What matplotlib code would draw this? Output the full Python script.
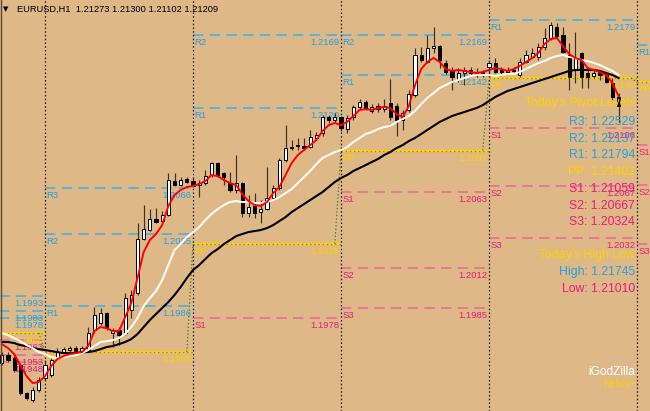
import matplotlib
matplotlib.use("Agg")
import matplotlib.pyplot as plt
from matplotlib.patches import Rectangle
from matplotlib.lines import Line2D

plt.rcParams['lines.scale_dashes'] = False
FONT = ['Liberation Sans', 'DejaVu Sans']

# ---------------- data ----------------
header = "EURUSD,H1  1.21273 1.21300 1.21102 1.21209"
first_bar = -7          # bar index of first visible candle (0 = first bar of day 1)

opens = [1.19476, 1.19530, 1.19510, 1.19462, 1.19273, 1.19226, 1.19294,
         1.19375, 1.19395, 1.19516, 1.19550, 1.19564, 1.19577, 1.19557, 1.19564, 1.19699, 1.19746,
         1.19813, 1.19678, 1.19699, 1.19678, 1.19834, 1.19948, 1.20313, 1.20374, 1.20448, 1.20434,
         1.20475, 1.20704, 1.20677, 1.20718, 1.20704, 1.20677, 1.20691, 1.20745, 1.20826, 1.20758,
         1.20691, 1.20644, 1.20691, 1.20488, 1.20536, 1.20495, 1.20515, 1.20590, 1.20657, 1.20846,
         1.20927, 1.20941, 1.20941, 1.20934, 1.20995, 1.21028, 1.21136, 1.21116, 1.21136, 1.21055,
         1.21136, 1.21204, 1.21238, 1.21177, 1.21211, 1.21190, 1.21231, 1.21211, 1.21116, 1.21184,
         1.21285, 1.21555, 1.21508, 1.21602, 1.21616, 1.21501, 1.21454, 1.21393, 1.21433, 1.21454,
         1.21427, 1.21440, 1.21474, 1.21501, 1.21454, 1.21440, 1.21454, 1.21420, 1.21508, 1.21541,
         1.21541, 1.21609, 1.21670, 1.21744, 1.21690, 1.21555, 1.21454, 1.21568, 1.21433, 1.21413,
         1.21440, 1.21420, 1.21366, 1.21273]
highs = [1.19550, 1.19550, 1.19530, 1.19476, 1.19280, 1.19314, 1.19381,
         1.19496, 1.19510, 1.19577, 1.19584, 1.19591, 1.19591, 1.19591, 1.19719, 1.19854, 1.19847,
         1.19820, 1.19712, 1.19719, 1.19948, 1.19969, 1.20421, 1.20542, 1.20515, 1.20522, 1.20502,
         1.20758, 1.20758, 1.20731, 1.20731, 1.20725, 1.20711, 1.20779, 1.20833, 1.20833, 1.20765,
         1.20765, 1.20880, 1.20698, 1.20610, 1.20623, 1.20576, 1.20799, 1.20677, 1.20860, 1.21082,
         1.20981, 1.20995, 1.20995, 1.21049, 1.21035, 1.21150, 1.21150, 1.21163, 1.21143, 1.21150,
         1.21217, 1.21258, 1.21251, 1.21224, 1.21231, 1.21258, 1.21393, 1.21231, 1.21184, 1.21319,
         1.21602, 1.21609, 1.21690, 1.21745, 1.21622, 1.21521, 1.21474, 1.21467, 1.21474, 1.21474,
         1.21467, 1.21454, 1.21521, 1.21535, 1.21474, 1.21474, 1.21474, 1.21535, 1.21589, 1.21602,
         1.21636, 1.21737, 1.21778, 1.21771, 1.21744, 1.21636, 1.21710, 1.21575, 1.21474, 1.21454,
         1.21454, 1.21440, 1.21400, 1.21300]
lows = [1.19462, 1.19483, 1.19415, 1.19260, 1.19226, 1.19213, 1.19280,
        1.19361, 1.19381, 1.19510, 1.19543, 1.19550, 1.19550, 1.19543, 1.19550, 1.19678, 1.19732,
        1.19699, 1.19584, 1.19597, 1.19665, 1.19780, 1.19935, 1.20306, 1.20367, 1.20421, 1.20421,
        1.20468, 1.20671, 1.20671, 1.20691, 1.20664, 1.20596, 1.20677, 1.20731, 1.20731, 1.20677,
        1.20630, 1.20623, 1.20461, 1.20461, 1.20455, 1.20421, 1.20509, 1.20576, 1.20644, 1.20833,
        1.20914, 1.20914, 1.20914, 1.20927, 1.20988, 1.21008, 1.21096, 1.21096, 1.21042, 1.21028,
        1.21116, 1.21184, 1.21184, 1.21163, 1.21170, 1.21170, 1.21116, 1.21010, 1.21049, 1.21170,
        1.21271, 1.21508, 1.21501, 1.21568, 1.21467, 1.21427, 1.21319, 1.21373, 1.21352, 1.21420,
        1.21406, 1.21406, 1.21433, 1.21433, 1.21420, 1.21427, 1.21433, 1.21406, 1.21501, 1.21535,
        1.21521, 1.21589, 1.21656, 1.21670, 1.21568, 1.21319, 1.21366, 1.21332, 1.21332, 1.21400,
        1.21386, 1.21366, 1.21251, 1.21102]
closes = [1.19530, 1.19496, 1.19429, 1.19273, 1.19240, 1.19294, 1.19361,
          1.19462, 1.19496, 1.19550, 1.19570, 1.19577, 1.19557, 1.19577, 1.19678, 1.19800, 1.19813,
          1.19712, 1.19699, 1.19665, 1.19915, 1.19935, 1.20313, 1.20380, 1.20448, 1.20428, 1.20475,
          1.20711, 1.20677, 1.20711, 1.20698, 1.20671, 1.20691, 1.20738, 1.20826, 1.20745, 1.20731,
          1.20644, 1.20691, 1.20488, 1.20529, 1.20488, 1.20515, 1.20590, 1.20657, 1.20846, 1.20927,
          1.20934, 1.20947, 1.20927, 1.21001, 1.21015, 1.21136, 1.21116, 1.21136, 1.21062, 1.21130,
          1.21204, 1.21238, 1.21190, 1.21204, 1.21190, 1.21211, 1.21136, 1.21116, 1.21163, 1.21292,
          1.21555, 1.21521, 1.21602, 1.21616, 1.21521, 1.21440, 1.21406, 1.21433, 1.21454, 1.21433,
          1.21440, 1.21427, 1.21501, 1.21440, 1.21440, 1.21454, 1.21447, 1.21508, 1.21555, 1.21568,
          1.21609, 1.21670, 1.21757, 1.21683, 1.21575, 1.21406, 1.21535, 1.21406, 1.21406, 1.21433,
          1.21420, 1.21373, 1.21273, 1.21209]

ma_fast = [1.19604, 1.19577, 1.19537, 1.19462, 1.19388, 1.19341, 1.19348,
           1.19388, 1.19456, 1.19503, 1.19523, 1.19537, 1.19543, 1.19550, 1.19591, 1.19692, 1.19719,
           1.19712, 1.19692, 1.19692, 1.19786, 1.19881, 1.20050, 1.20225, 1.20306, 1.20347, 1.20407,
           1.20536, 1.20610, 1.20644, 1.20664, 1.20671, 1.20684, 1.20704, 1.20745, 1.20738, 1.20711,
           1.20691, 1.20677, 1.20617, 1.20569, 1.20542, 1.20536, 1.20563, 1.20623, 1.20664, 1.20745,
           1.20826, 1.20880, 1.20914, 1.20947, 1.20981, 1.21042, 1.21082, 1.21096, 1.21082, 1.21103,
           1.21143, 1.21184, 1.21190, 1.21184, 1.21197, 1.21204, 1.21197, 1.21157, 1.21136, 1.21211,
           1.21352, 1.21460, 1.21508, 1.21535, 1.21508, 1.21460, 1.21447, 1.21454, 1.21447, 1.21440,
           1.21433, 1.21440, 1.21454, 1.21467, 1.21460, 1.21447, 1.21460, 1.21481, 1.21508, 1.21535,
           1.21568, 1.21629, 1.21663, 1.21670, 1.21616, 1.21562, 1.21535, 1.21521, 1.21467, 1.21454,
           1.21440, 1.21420, 1.21366, 1.21278]
ma_mid = [1.19678, 1.19665, 1.19645, 1.19624, 1.19597, 1.19577, 1.19550,
          1.19537, 1.19516, 1.19510, 1.19516, 1.19523, 1.19530, 1.19543, 1.19564, 1.19591, 1.19618,
          1.19624, 1.19631, 1.19645, 1.19672, 1.19719, 1.19780, 1.19861, 1.19915, 1.19962, 1.20036,
          1.20137, 1.20239, 1.20279, 1.20326, 1.20360, 1.20394, 1.20441, 1.20482, 1.20515, 1.20542,
          1.20563, 1.20569, 1.20563, 1.20563, 1.20556, 1.20556, 1.20563, 1.20576, 1.20596, 1.20623,
          1.20650, 1.20691, 1.20731, 1.20772, 1.20819, 1.20860, 1.20880, 1.20900, 1.20914, 1.20934,
          1.20968, 1.20995, 1.21022, 1.21035, 1.21055, 1.21069, 1.21076, 1.21103, 1.21123, 1.21143,
          1.21177, 1.21224, 1.21265, 1.21298, 1.21332, 1.21352, 1.21373, 1.21386, 1.21400, 1.21413,
          1.21420, 1.21420, 1.21420, 1.21413, 1.21420, 1.21427, 1.21427, 1.21440, 1.21460, 1.21481,
          1.21501, 1.21514, 1.21535, 1.21548, 1.21555, 1.21541, 1.21535, 1.21521, 1.21514, 1.21501,
          1.21487, 1.21467, 1.21447, 1.21420]
ma_slow = [1.19618, 1.19618, 1.19611, 1.19597, 1.19591, 1.19577, 1.19570,
           1.19564, 1.19557, 1.19550, 1.19543, 1.19543, 1.19543, 1.19550, 1.19550, 1.19557, 1.19570,
           1.19584, 1.19591, 1.19604, 1.19618, 1.19638, 1.19672, 1.19719, 1.19766, 1.19807, 1.19847,
           1.19888, 1.19935, 1.19989, 1.20050, 1.20104, 1.20137, 1.20178, 1.20218, 1.20245, 1.20279,
           1.20306, 1.20333, 1.20347, 1.20360, 1.20367, 1.20374, 1.20387, 1.20407, 1.20434, 1.20461,
           1.20495, 1.20522, 1.20549, 1.20576, 1.20603, 1.20630, 1.20664, 1.20698, 1.20725, 1.20745,
           1.20772, 1.20792, 1.20812, 1.20833, 1.20853, 1.20880, 1.20900, 1.20927, 1.20947, 1.20974,
           1.20995, 1.21022, 1.21049, 1.21076, 1.21103, 1.21123, 1.21143, 1.21157, 1.21170, 1.21184,
           1.21197, 1.21217, 1.21244, 1.21271, 1.21292, 1.21312, 1.21325, 1.21339, 1.21352, 1.21366,
           1.21379, 1.21393, 1.21406, 1.21420, 1.21433, 1.21447, 1.21454, 1.21454, 1.21454, 1.21454,
           1.21447, 1.21433, 1.21420, 1.21400]

# daily pivot levels (one entry per day; day start bar in day_starts)
bars_per_day = 24
day_starts = [-24, 0, 24, 48, 72, 96]
r3_levels = [1.1993, 1.2066, None, None, 1.2253, None]
r2_levels = [1.1983, 1.2035, 1.2169, 1.2169, 1.2214, None]
r1_levels = [1.1978, 1.1986, 1.2120, 1.2142, 1.2179, 1.2162]
pp_levels = [1.1968, 1.1955, 1.2028, 1.2091, 1.2140, 1.2137]
s1_levels = [1.1963, None, 1.1978, 1.2063, 1.2106, 1.2095]
s2_levels = [1.1953, None, None, 1.2012, 1.2067, 1.2068]
s3_levels = [1.1948, None, None, 1.1985, 1.2032, 1.2028]

panel_names = ["R3", "R2", "R1", "PP", "S1", "S2", "S3"]
panel_values = [1.22529, 1.22137, 1.21794, 1.21402, 1.21059, 1.20667, 1.20324]
today_high = 1.21745
today_low = 1.21010

# ---------------- style ----------------
W, H = 650, 411
BG = '#DEB887'
CYAN_T = '#1EA3E6'
CYAN_L = '#45B2E4'
PINK_T = '#F0187F'
PINK_L = '#EE6A9C'
GOLD = '#FFD200'
WICK = '#3a3123'
PT = 0.72  # points per pixel at 100 dpi

fig = plt.figure(figsize=(W / 100, H / 100), dpi=100)
fig.patch.set_facecolor(BG)
ax = fig.add_axes([0, 0, 1, 1])
ax.set_facecolor(BG)
ax.axis('off')

bar_px = 148 / 24.0
x_left = -45 / bar_px
ax.set_xlim(x_left, x_left + W / bar_px)
ax.set_ylim(1.191526, 1.21926)

# day separators
for s in day_starts[1:]:
    ax.axvline(s, color='#1c1a16', lw=0.9, linestyle=(0, (1.1, 1.6)), zorder=1.5)


def level_line(s, v, color, dashed=True):
    e = s + bars_per_day
    if dashed:
        ax.plot([s, e], [v, v], color=color, lw=1.2, linestyle=(0, (7.5, 4.5)),
                zorder=1, solid_capstyle='butt', dash_capstyle='butt')
    else:
        ax.plot([s, e], [v, v], color=GOLD, lw=1.5, zorder=1)
        ax.plot([s, e], [v, v], color='#9C8A1E', lw=0.9, linestyle=(0, (1, 2)), zorder=1.1)


def level_text(x, v, s, color, ha):
    dx = 1.5 * PT if ha == 'left' else -1.5 * PT
    ax.annotate(s, xy=(x, v), xytext=(dx, -10 * PT), textcoords='offset points',
                ha=ha, va='baseline', fontsize=6.8, color=color, family=FONT, zorder=2)


groups = [("R3", r3_levels, CYAN_L, CYAN_T), ("R2", r2_levels, CYAN_L, CYAN_T),
          ("R1", r1_levels, CYAN_L, CYAN_T), ("PP", pp_levels, GOLD, GOLD),
          ("S1", s1_levels, PINK_L, PINK_T), ("S2", s2_levels, PINK_L, PINK_T),
          ("S3", s3_levels, PINK_L, PINK_T)]
for name, levels, lc, tc in groups:
    for d, s in enumerate(day_starts):
        v = levels[d]
        if v is None:
            continue
        level_line(s, v, lc, dashed=(name != "PP"))
        level_text(s, v, name, tc, 'left')
        level_text(s + bars_per_day, v, f"{v:.4f}", tc, 'right')

# connectors between consecutive pivot points
for d in range(len(day_starts) - 1):
    e = day_starts[d] + bars_per_day
    ax.plot([e - 1, e], [pp_levels[d], pp_levels[d + 1]], color='#2F8A2A', lw=0.9,
            linestyle=(0, (1, 1.5)), zorder=1.2)

# candles
for i in range(len(opens)):
    k = first_bar + i
    o, h, l, c = opens[i], highs[i], lows[i], closes[i]
    ax.plot([k, k], [l, h], color=WICK, lw=0.85, zorder=3, solid_capstyle='butt')
    lo, hi = min(o, c), max(o, c)
    fc = 'white' if c >= o else 'black'
    ax.add_patch(Rectangle((k - 0.26, lo), 0.52, max(hi - lo, 0.00002), facecolor=fc,
                           edgecolor='black', lw=0.7, zorder=3.1))

ks = [first_bar + i for i in range(len(closes))]
ax.plot(ks, ma_slow, color='black', lw=1.5, zorder=4)
ax.plot(ks, ma_mid, color='white', lw=1.4, zorder=4.1)
ax.plot(ks, ma_fast, color='#FF0000', lw=1.4, zorder=4.2)

# left frame
fig.add_artist(Line2D([1 / W, 1 / W], [0, 1], transform=fig.transFigure, color='#5a4a32', lw=1))


def ptext(x, y, s, color, size, ha='right', va='baseline', family=FONT):
    fig.text(x / W, 1 - y / H, s, color=color, fontsize=size, ha=ha, va=va, family=family, zorder=6)


# header
ptext(3, 9, '\u25BC', 'black', 5, ha='left', va='center', family=['DejaVu Sans'])
ptext(17, 9, header, 'black', 6.7, ha='left', va='center')

# info panel
ptext(635, 106, "Today's Pivot Levels", GOLD, 8.8)
base = 125
for j, (n, v) in enumerate(zip(panel_names, panel_values)):
    col = CYAN_T if n.startswith('R') else (GOLD if n == 'PP' else PINK_T)
    ptext(635, base + j * 16.7, f"{n}: {v:.5f}", col, 8.8)
ptext(635, 258, "Today's High Low", GOLD, 8.8)
ptext(635, 275, f"High: {today_high:.5f}", CYAN_T, 8.8)
ptext(635, 291.5, f"Low: {today_low:.5f}", PINK_T, 8.8)

ptext(635, 375, "iGodZilla", 'white', 8.6)
ptext(636, 387, "Helios+", GOLD, 7)

fig.savefig('out.png', dpi=100, facecolor=BG)
